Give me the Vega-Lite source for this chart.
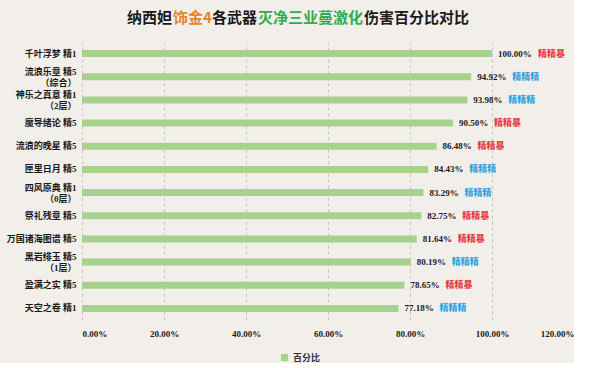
{
  "$schema": "https://vega.github.io/schema/vega-lite/v6.json",
  "background": "#f2efeb",
  "padding": {"left": 6, "top": 10, "right": 0, "bottom": 0},
  "spacing": 5,
  "config": {"view": {"stroke": null}},
  "vconcat": [
    {
      "spacing": 0,
      "hconcat": [
        {"width": 45, "height": 1, "data": {"values": [{}]}, "mark": "text", "encoding": {"text": {"value": ""}}},
        {"width": 45, "height": 1, "data": {"values": [{}]}, "mark": "text", "encoding": {"text": {"value": ""}},
         "title": {"text": "纳西妲", "anchor": "start", "offset": 0, "color": "#1a1a1a", "fontSize": 15, "font": "Noto Sans CJK SC", "fontWeight": "bold"}},
        {"width": 38.5, "height": 1, "data": {"values": [{}]}, "mark": "text", "encoding": {"text": {"value": ""}},
         "title": {"text": "饰金4", "anchor": "start", "offset": 0, "color": "#e5862b", "fontSize": 15, "font": "Noto Sans CJK SC", "fontWeight": "bold"}},
        {"width": 45, "height": 1, "data": {"values": [{}]}, "mark": "text", "encoding": {"text": {"value": ""}},
         "title": {"text": "各武器", "anchor": "start", "offset": 0, "color": "#1a1a1a", "fontSize": 15, "font": "Noto Sans CJK SC", "fontWeight": "bold"}},
        {"width": 105, "height": 1, "data": {"values": [{}]}, "mark": "text", "encoding": {"text": {"value": ""}},
         "title": {"text": "灭净三业蔓激化", "anchor": "start", "offset": 0, "color": "#2fae4a", "fontSize": 15, "font": "Noto Sans CJK SC", "fontWeight": "bold"}},
        {"width": 105, "height": 1, "data": {"values": [{}]}, "mark": "text", "encoding": {"text": {"value": ""}},
         "title": {"text": "伤害百分比对比", "anchor": "start", "offset": 0, "color": "#1a1a1a", "fontSize": 15, "font": "Noto Sans CJK SC", "fontWeight": "bold"}}
      ]
    },
    {
      "width": 492,
      "height": 278,
      "data": {
        "values": [
          {"name": "千叶浮梦 精1", "value": 1.0, "tag": "精精暴"},
          {"name": "流浪乐章 精5\n（综合）", "value": 0.9492, "tag": "精精精"},
          {"name": "神乐之真意 精1\n（2层）", "value": 0.9398, "tag": "精精精"},
          {"name": "魔导绪论 精5", "value": 0.905, "tag": "精精暴"},
          {"name": "流浪的晚星 精5", "value": 0.8648, "tag": "精精暴"},
          {"name": "匣里日月 精5", "value": 0.8443, "tag": "精精精"},
          {"name": "四风原典 精1\n（0层）", "value": 0.8329, "tag": "精精精"},
          {"name": "祭礼残章 精5", "value": 0.8275, "tag": "精精暴"},
          {"name": "万国诸海图谱 精5", "value": 0.8164, "tag": "精精暴"},
          {"name": "黑岩绯玉 精5\n（1层）", "value": 0.8019, "tag": "精精精"},
          {"name": "盈满之实 精5", "value": 0.7865, "tag": "精精暴"},
          {"name": "天空之卷 精1", "value": 0.7718, "tag": "精精精"}
        ]
      },
      "encoding": {
        "y": {
          "field": "name", "type": "nominal", "sort": null,
          "scale": {"paddingInner": 0.7, "paddingOuter": 0.35},
          "axis": {"title": null, "domain": false, "ticks": false, "labelPadding": 6,
                   "labelFont": "Liberation Serif, Noto Sans CJK SC", "labelFontSize": 9, "labelFontWeight": "bold",
                   "labelColor": "#1a1a1a", "labelExpr": "split(datum.label, '\\n')", "labelLineHeight": 11,
                   "labelOffset": {"condition": {"test": "indexof(datum.label, '\\n') >= 0", "value": -5}, "value": 0}}
        },
        "x": {
          "field": "value", "type": "quantitative",
          "scale": {"domain": [0, 1.2], "nice": false},
          "axis": {"title": null, "format": ".2%", "values": [0, 0.2, 0.4, 0.6, 0.8, 1.0, 1.2],
                   "grid": true, "gridDash": [3, 3], "gridColor": "#c4c4c4", "domain": false, "ticks": false,
                   "labelPadding": 9, "labelFont": "Liberation Serif, Noto Sans CJK SC", "labelFontSize": 9,
                   "labelFontWeight": "bold", "labelColor": "#1a1a1a"}
        }
      },
      "layer": [
        {
          "mark": {"type": "bar"},
          "encoding": {
            "color": {"datum": "百分比", "scale": {"range": ["#a7d28d"]},
                      "legend": {"title": null, "orient": "none", "legendX": 198, "legendY": 322, "symbolType": "square",
                                 "symbolSize": 50, "symbolStrokeWidth": 0, "labelFont": "Noto Sans CJK SC", "labelFontSize": 9,
                                 "labelFontWeight": "bold", "labelColor": "#333333"}}
          }
        },
        {
          "mark": {"type": "text", "align": "left", "baseline": "middle", "dx": 6,
                   "font": "Liberation Serif", "fontSize": 9, "fontWeight": "bold", "color": "#1a1a1a"},
          "encoding": {"text": {"field": "value", "format": ".2%"}}
        },
        {
          "transform": [{"filter": "datum.value < 1"}],
          "mark": {"type": "text", "align": "left", "baseline": "middle", "dx": 41,
                   "font": "Noto Sans CJK SC", "fontSize": 9, "fontWeight": "bold"},
          "encoding": {
            "text": {"field": "tag"},
            "color": {"condition": {"test": "datum.tag === '精精暴'", "value": "#e5333b"}, "value": "#2c9fd9"}
          }
        },
        {
          "transform": [{"filter": "datum.value >= 1"}],
          "mark": {"type": "text", "align": "left", "baseline": "middle", "dx": 46,
                   "font": "Noto Sans CJK SC", "fontSize": 9, "fontWeight": "bold"},
          "encoding": {
            "text": {"field": "tag"},
            "color": {"condition": {"test": "datum.tag === '精精暴'", "value": "#e5333b"}, "value": "#2c9fd9"}
          }
        }
      ]
    }
  ]
}
